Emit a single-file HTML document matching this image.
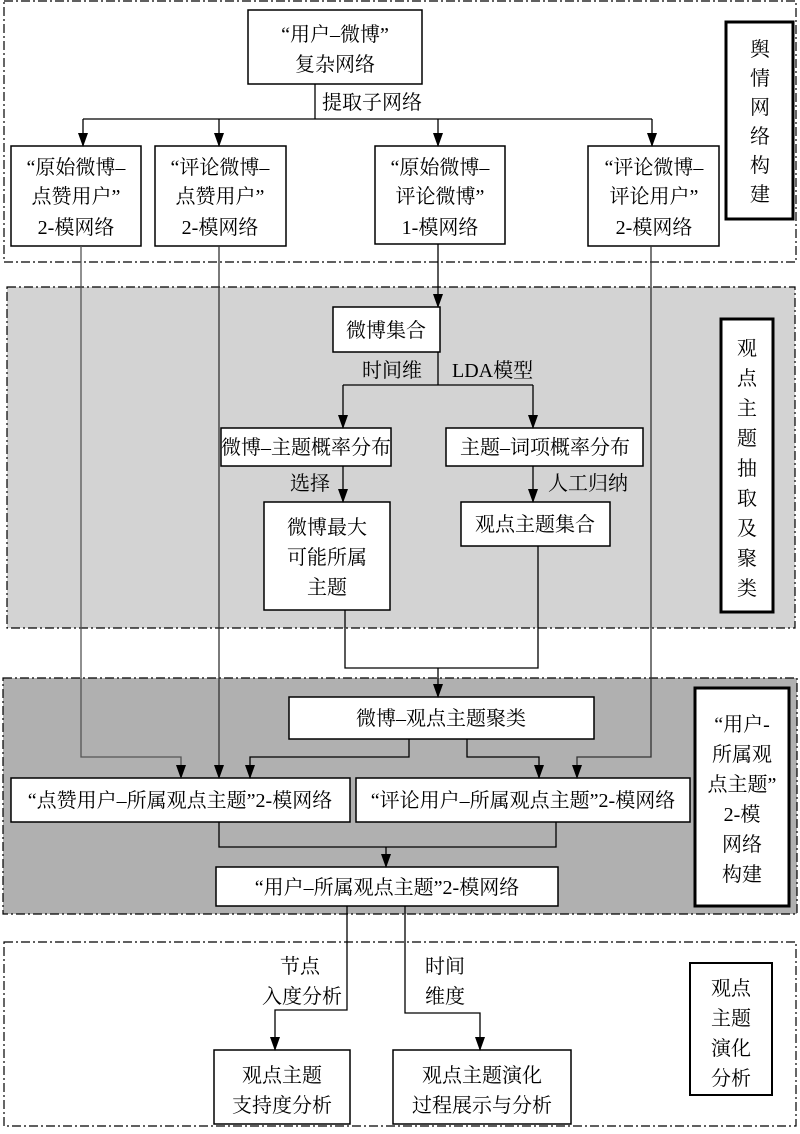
<!DOCTYPE html>
<html><head><meta charset="utf-8"><style>
html,body{margin:0;padding:0;background:#fff}
svg text{font-family:"Liberation Serif","Noto Serif CJK SC",serif;font-size:20px;fill:#000}
</style></head><body>
<svg width="800" height="1129" viewBox="0 0 800 1129" xmlns="http://www.w3.org/2000/svg">
<defs>
<marker id="d" markerWidth="12" markerHeight="14" refX="6" refY="13" markerUnits="userSpaceOnUse"><path d="M1,0 L11,0 L6,14 Z" fill="#000"/></marker></defs>
<g stroke="#000" stroke-width="1.2" stroke-dasharray="9 3 2 3">
<rect x="4" y="1" width="792" height="261" fill="#fff"/>
<rect x="7" y="287" width="788" height="341" fill="#d3d3d3"/>
<rect x="3" y="678" width="794" height="236" fill="#b0b0b0"/>
<rect x="4" y="942" width="792" height="184" fill="#fff"/>
</g>
<g fill="#fff" stroke="#000" stroke-width="1.5">
<rect x="248" y="10" width="174" height="74"/>
<rect x="11" y="146" width="130" height="100"/>
<rect x="155" y="146" width="131" height="100"/>
<rect x="375" y="146" width="130" height="98"/>
<rect x="588" y="146" width="131" height="100"/>
<rect x="333" y="307" width="107" height="45"/>
<rect x="221" y="428" width="170" height="38"/>
<rect x="446" y="428" width="197" height="38"/>
<rect x="264" y="502" width="126" height="108"/>
<rect x="461" y="502" width="149" height="44"/>
<rect x="289" y="697" width="305" height="42"/>
<rect x="11" y="778" width="339" height="44"/>
<rect x="356" y="778" width="334" height="44"/>
<rect x="216" y="867" width="342" height="39"/>
<rect x="214" y="1050" width="136" height="74"/>
<rect x="393" y="1050" width="178" height="74"/>
</g>
<g fill="#fff" stroke="#000" stroke-width="3">
<rect x="726" y="22" width="67" height="197"/>
<rect x="721" y="319" width="52" height="293"/>
<rect x="695" y="688" width="94" height="218"/>
</g>
<rect x="690" y="963" width="82" height="132" fill="#fff" stroke="#000" stroke-width="2"/>
<g fill="none" stroke="#000" stroke-width="1.3">
<path d="M315 84V119M83 119H652"/>
<path d="M83 119V146" marker-end="url(#d)"/>
<path d="M219 119V146" marker-end="url(#d)"/>
<path d="M438 119V146" marker-end="url(#d)"/>
<path d="M652 119V146" marker-end="url(#d)"/>
<path d="M438 244V307" marker-end="url(#d)"/>
<path d="M438 352V385M343 385H533"/>
<path d="M343 385V428" marker-end="url(#d)"/>
<path d="M533 385V428" marker-end="url(#d)"/>
<path d="M343 466V502" marker-end="url(#d)"/>
<path d="M533 466V502" marker-end="url(#d)"/>
<path d="M345 610V668H538V546"/>
<path d="M438 668V697" marker-end="url(#d)"/>
<path d="M81 246V757H181V778" stroke="#555" marker-end="url(#d)"/>
<path d="M219 246V778" stroke="#333" marker-end="url(#d)"/>
<path d="M651 246V757H577V778" stroke="#333" marker-end="url(#d)"/>
<path d="M409 739V757H250V778" marker-end="url(#d)"/>
<path d="M467 739V757H539V778" marker-end="url(#d)"/>
<path d="M219 822V847H556V822"/>
<path d="M386 847V867" marker-end="url(#d)"/>
<path d="M347 906V1010H275V1050" marker-end="url(#d)"/>
<path d="M405 906V1013H480V1050" marker-end="url(#d)"/>
</g>
<g text-anchor="middle">
<text x="335" y="41">“用户–微博”</text><text x="335" y="71">复杂网络</text>
<text x="76" y="174">“原始微博–</text><text x="76" y="203">点赞用户”</text><text x="76" y="234">2-模网络</text>
<text x="220" y="174">“评论微博–</text><text x="220" y="203">点赞用户”</text><text x="220" y="234">2-模网络</text>
<text x="440" y="174">“原始微博–</text><text x="440" y="203">评论微博”</text><text x="440" y="234">1-模网络</text>
<text x="654" y="174">“评论微博–</text><text x="654" y="203">评论用户”</text><text x="654" y="234">2-模网络</text>
<text x="386" y="337">微博集合</text>
<text x="306" y="454">微博–主题概率分布</text>
<text x="545" y="454">主题–词项概率分布</text>
<text x="327" y="534">微博最大</text><text x="327" y="564">可能所属</text><text x="327" y="594">主题</text>
<text x="535" y="531">观点主题集合</text>
<text x="441" y="725">微博–观点主题聚类</text>
<text x="180" y="807">“点赞用户–所属观点主题”2-模网络</text>
<text x="523" y="807">“评论用户–所属观点主题”2-模网络</text>
<text x="387" y="894">“用户–所属观点主题”2-模网络</text>
<text x="282" y="1082">观点主题</text><text x="282" y="1112">支持度分析</text>
<text x="482" y="1082">观点主题演化</text><text x="482" y="1112">过程展示与分析</text>
<text x="760" y="56">舆</text><text x="760" y="85">情</text><text x="760" y="114">网</text><text x="760" y="143">络</text><text x="760" y="172">构</text><text x="760" y="201">建</text>
<text x="747" y="355">观</text><text x="747" y="385">点</text><text x="747" y="415">主</text><text x="747" y="445">题</text><text x="747" y="475">抽</text><text x="747" y="505">取</text><text x="747" y="535">及</text><text x="747" y="565">聚</text><text x="747" y="595">类</text>
<text x="742" y="731">“用户-</text><text x="742" y="761">所属观</text><text x="742" y="791">点主题”</text><text x="742" y="821">2-模</text><text x="742" y="851">网络</text><text x="742" y="881">构建</text>
<text x="731" y="995">观点</text><text x="731" y="1025">主题</text><text x="731" y="1055">演化</text><text x="731" y="1085">分析</text>
</g>
<text x="322" y="109">提取子网络</text>
<text x="362" y="377">时间维</text>
<text x="452" y="377">LDA模型</text>
<text x="290" y="490">选择</text>
<text x="548" y="490">人工归纳</text>
<text x="280" y="973">节点</text><text x="262" y="1003">入度分析</text>
<text x="425" y="973">时间</text><text x="425" y="1003">维度</text>
</svg>
</body></html>
